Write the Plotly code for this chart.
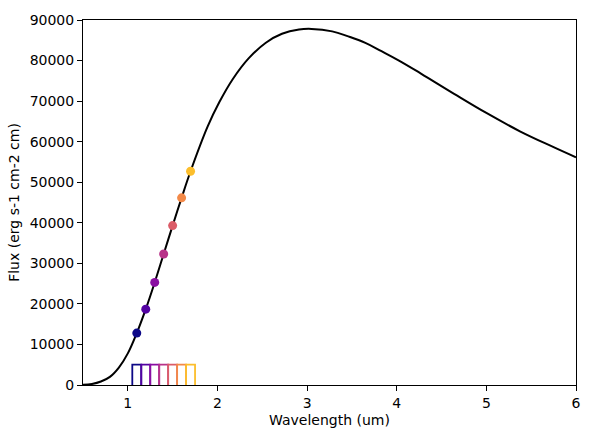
import plotly.graph_objects as go
from plotly.colors import sample_colorscale

# blackbody-like curve
wave = [0.5, 0.6, 0.7, 0.8, 0.9, 1.0, 1.1, 1.2, 1.3, 1.4, 1.5, 1.6, 1.7,
        1.89, 2.02, 2.17, 2.35, 2.54, 2.72, 2.91, 3.05, 3.28, 3.46, 3.65, 3.83,
        4.02, 4.27, 4.64, 5.01, 5.38, 5.75, 6.0]
flux = [50, 250, 850, 2000, 4300, 7800, 12800, 18700, 25300, 32300, 39300, 46150, 52700,
        63700, 69700, 75400, 80600, 84400, 86600, 87650, 87800, 87200, 85950, 84350, 82300,
        80050, 76800, 71800, 66950, 62500, 58650, 56150]

# filter centres and the flux sampled at them
band_center = [1.1, 1.2, 1.3, 1.4, 1.5, 1.6, 1.7]
band_flux = [12800, 18700, 25300, 32300, 39300, 46150, 52700]
band_lo = [1.05, 1.15, 1.25, 1.35, 1.45, 1.55, 1.65]
band_hi = [1.15, 1.25, 1.35, 1.45, 1.55, 1.65, 1.75]
band_height = 5000

colors = sample_colorscale("Plasma", [i / 7 for i in range(7)])

fig = go.Figure()
fig.add_trace(go.Scatter(x=wave, y=flux, mode="lines",
                         line=dict(color="black", width=2, shape="spline", smoothing=1.1),
                         showlegend=False))

for lo, hi, c in zip(band_lo, band_hi, colors):
    fig.add_trace(go.Scatter(x=[lo, lo, hi, hi], y=[0, band_height, band_height, 0], mode="lines",
                             line=dict(color=c, width=1.8), showlegend=False))

fig.add_trace(go.Scatter(x=band_center, y=band_flux, mode="markers",
                         marker=dict(color=colors, size=9), showlegend=False))

axis_style = dict(showline=True, linecolor="black", linewidth=1, mirror=True, showgrid=False,
                  zeroline=False, ticks="outside", ticklen=5, tickcolor="black",
                  tickfont=dict(size=14, color="black"))

fig.update_layout(
    width=593, height=438,
    margin=dict(l=83, r=14, t=15, b=53),
    paper_bgcolor="white", plot_bgcolor="white",
    font=dict(family="DejaVu Sans", color="black", size=14),
    xaxis=dict(range=[0.5, 6], tickvals=[1, 2, 3, 4, 5, 6],
               title=dict(text="Wavelength (um)", font=dict(size=14), standoff=5), **axis_style),
    yaxis=dict(range=[0, 90000], dtick=10000, tickformat="d",
               title=dict(text="Flux (erg s-1 cm-2 cm)", font=dict(size=14), standoff=6), **axis_style),
)

fig.write_html("out.html", config={"displayModeBar": False},
               post_script="document.body.style.margin='0';")
